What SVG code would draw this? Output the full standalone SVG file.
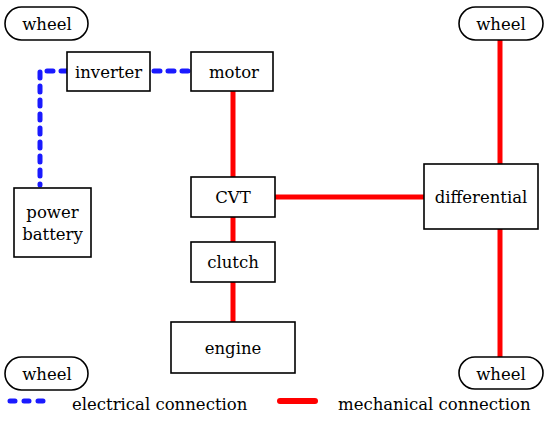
<svg xmlns="http://www.w3.org/2000/svg" width="550" height="425" viewBox="0 0 550 425">
<style>
.box{fill:#fff;stroke:#000;stroke-width:1.6}
.t{font-family:"DejaVu Serif",serif;font-size:16.5px;fill:#000;text-anchor:middle}
.lg{font-family:"DejaVu Serif",serif;font-size:16.5px;fill:#000}
.mech{stroke:#ff0000;stroke-width:5;fill:none}
.elec{stroke:#1a1aff;stroke-width:5;fill:none;stroke-dasharray:6 8;stroke-linecap:round}
</style>
<rect width="550" height="425" fill="#fff"/>
<g id="connectors">
<path class="elec" d="M67,71 H40 V185"/>
<path class="elec" d="M154,71 H190"/>
<path class="mech" d="M233,91 V177"/>
<path class="mech" d="M233,217 V242"/>
<path class="mech" d="M233,282 V322"/>
<path class="mech" d="M275,197 H424"/>
<path class="mech" d="M500,40 V164"/>
<path class="mech" d="M500,229 V357"/>
</g>
<g id="wheel-tl"><rect class="box" x="5" y="7" width="83" height="33" rx="16.5"/><text class="t" x="47" y="30">wheel</text></g>
<g id="wheel-tr"><rect class="box" x="459" y="7" width="84" height="33" rx="16.5"/><text class="t" x="501" y="30">wheel</text></g>
<g id="wheel-bl"><rect class="box" x="5" y="357" width="83" height="33" rx="16.5"/><text class="t" x="47" y="380">wheel</text></g>
<g id="wheel-br"><rect class="box" x="459" y="357" width="84" height="32" rx="16"/><text class="t" x="501" y="380">wheel</text></g>
<g id="inverter"><rect class="box" x="67" y="52" width="83" height="39"/><text class="t" x="108.5" y="78">inverter</text></g>
<g id="motor"><rect class="box" x="191" y="52" width="82" height="39"/><text class="t" x="234" y="78">motor</text></g>
<g id="power-battery"><rect class="box" x="14" y="188" width="77" height="69"/><text class="t" x="52.5" y="218">power</text><text class="t" x="52.5" y="240">battery</text></g>
<g id="cvt"><rect class="box" x="191" y="177" width="84" height="40"/><text class="t" x="233" y="203">CVT</text></g>
<g id="clutch"><rect class="box" x="191" y="242" width="84" height="40"/><text class="t" x="233" y="268">clutch</text></g>
<g id="engine"><rect class="box" x="171" y="322" width="124" height="51"/><text class="t" x="233" y="354">engine</text></g>
<g id="differential"><rect class="box" x="424" y="164" width="114" height="65"/><text class="t" x="481" y="203">differential</text></g>
<g id="legend">
<path class="elec" d="M10,401 H48" style="stroke-dasharray:5 9"/>
<text class="lg" x="72" y="410">electrical connection</text>
<path class="mech" d="M280,401 H315" style="stroke-linecap:round;stroke-width:6"/>
<text class="lg" x="338" y="410">mechanical connection</text>
</g>
</svg>
